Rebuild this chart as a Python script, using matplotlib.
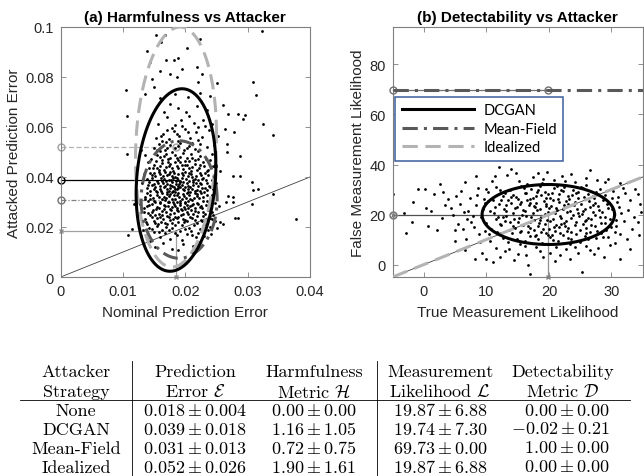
import numpy as np
import matplotlib.pyplot as plt
from matplotlib.lines import Line2D

plt.rcParams['font.family'] = ['Liberation Sans', 'DejaVu Sans']
plt.rcParams['mathtext.fontset'] = 'cm'

# summary table
strategies = ['None', 'DCGAN', 'Mean-Field', 'Idealized']
err_mean = [0.018, 0.039, 0.031, 0.052]
err_std = [0.004, 0.018, 0.013, 0.026]
harm_mean = [0.00, 1.16, 0.72, 1.90]
harm_std = [0.00, 1.05, 0.75, 1.61]
lik_mean = [19.87, 19.74, 69.73, 19.87]
lik_std = [6.88, 7.30, 0.00, 6.88]
det_mean = [0.00, -0.02, 1.00, 0.00]
det_std = [0.00, 0.21, 0.00, 0.00]

# nominal error mean as drawn in panel (a)
nom_err = 0.0185

# DCGAN samples, panel (a): (nominal error, attacked error) in units of 1e-3
pts_a = [
    (15.2, 12.1), (17.8, 11.4), (19.6, 13.2), (21.3, 12.6), (16.4, 13.8), (18.9, 10.8), (22.4, 13.9), (14.3, 14.5),
    (13.8, 15.2), (15.9, 16.1), (17.5, 15.4), (18.6, 16.8), (20.2, 17.2), (21.7, 15.9), (23.0, 16.5), (16.8, 17.6),
    (19.4, 15.0), (14.9, 17.9), (22.1, 17.8), (24.1, 17.1), (12.9, 16.4), (10.8, 16.8), (11.4, 19.2),
    (13.2, 18.9), (14.6, 19.4), (15.4, 20.6), (16.2, 18.7), (17.1, 21.3), (17.9, 19.5), (18.4, 20.8), (19.1, 18.4),
    (19.8, 21.9), (20.6, 19.7), (21.4, 20.9), (22.3, 19.1), (23.2, 21.4), (24.0, 20.2), (16.7, 21.8), (18.8, 22.0),
    (20.9, 18.6), (15.1, 21.7), (13.9, 21.1), (22.7, 22.3), (25.1, 19.6), (26.1, 21.2), (25.6, 21.9),
    (13.5, 23.4), (14.3, 24.8), (15.0, 22.6), (15.8, 25.3), (16.4, 23.1), (17.0, 24.6), (17.6, 22.9), (18.1, 25.6),
    (18.7, 23.7), (19.3, 24.9), (19.9, 22.8), (20.5, 25.2), (21.1, 23.5), (21.8, 24.4), (22.5, 22.9), (23.1, 25.1),
    (23.9, 23.8), (24.5, 24.9), (16.9, 26.0), (18.4, 24.2), (20.2, 26.1), (14.7, 26.0), (22.0, 26.2), (17.3, 23.9),
    (19.6, 23.4), (24.8, 22.6), (27.9, 23.5), (28.5, 23.5),
    (13.3, 27.6), (14.1, 28.9), (14.8, 26.9), (15.5, 28.1), (16.0, 29.6), (16.6, 27.2), (17.2, 28.6), (17.7, 26.7),
    (18.2, 29.3), (18.6, 27.8), (19.1, 28.9), (19.5, 26.8), (20.0, 29.8), (20.4, 27.5), (21.0, 28.7), (21.5, 26.5),
    (22.1, 29.1), (22.7, 27.6), (23.3, 28.8), (24.0, 27.2), (15.2, 29.9), (17.4, 29.9), (19.8, 28.2), (21.8, 29.7),
    (16.3, 26.4), (18.9, 26.3), (23.8, 29.5), (12.8, 29.3), (11.7, 29.2), (26.6, 29.9), (27.6, 29.9), (25.4, 28.5),
    (13.6, 31.2), (14.4, 32.8), (15.0, 30.6), (15.7, 31.9), (16.2, 33.5), (16.8, 30.8), (17.3, 32.4), (17.8, 33.9),
    (18.3, 31.1), (18.7, 32.9), (19.2, 30.5), (19.6, 33.3), (20.1, 31.6), (20.6, 32.8), (21.1, 30.9), (21.6, 33.6),
    (22.2, 31.8), (22.8, 30.4), (23.4, 32.6), (24.1, 31.4), (15.5, 33.9), (17.0, 34.0), (19.0, 31.9), (20.8, 34.0),
    (22.5, 33.5), (14.0, 30.3), (18.0, 30.2), (19.9, 30.1), (16.5, 32.1), (21.4, 31.7), (30.7, 29.2), (27.7, 31.9),
    (26.8, 32.3), (30.9, 34.9), (31.6, 35.2), (34.1, 33.2),
    (13.8, 35.7), (14.6, 36.9), (15.3, 34.6), (15.9, 36.2), (16.4, 37.6), (17.0, 35.1), (17.5, 36.8), (18.0, 34.5),
    (18.5, 37.3), (18.9, 35.6), (19.4, 36.9), (19.8, 34.7), (20.3, 37.8), (20.8, 35.9), (21.3, 36.8), (21.9, 34.8),
    (22.5, 37.1), (23.1, 35.5), (23.8, 36.6), (24.4, 35.1), (16.1, 34.3), (17.8, 37.9), (19.2, 38.0), (20.5, 34.2),
    (22.0, 36.3), (18.2, 36.1), (24.9, 37.6), (14.2, 37.9), (30.7, 37.9), (27.7, 40.5), (28.8, 40.5),
    (13.9, 39.2), (14.7, 40.6), (15.4, 38.5), (16.0, 41.2), (16.6, 39.4), (17.1, 40.9), (17.7, 38.6), (18.2, 41.6),
    (18.7, 39.8), (19.1, 38.4), (19.6, 40.7), (20.1, 39.2), (20.6, 41.5), (21.2, 38.7), (21.7, 40.3), (22.3, 41.8),
    (22.9, 39.5), (23.6, 40.8), (24.3, 39.0), (15.8, 42.0), (17.5, 42.0), (19.9, 42.1), (18.4, 40.2), (16.9, 38.3),
    (21.0, 40.0), (13.3, 41.1),
    (14.2, 43.5), (15.0, 44.9), (15.7, 42.8), (16.3, 45.6), (16.9, 43.9), (17.5, 45.1), (18.0, 42.6), (18.6, 44.4),
    (19.2, 46.0), (19.7, 43.2), (20.3, 44.8), (20.9, 42.5), (21.5, 45.3), (22.2, 43.7), (22.9, 45.8), (23.7, 43.0),
    (17.2, 46.1), (20.0, 46.3), (24.5, 44.2), (14.0, 45.8), (12.2, 44.1), (25.6, 42.2),
    (14.5, 47.3), (15.4, 48.8), (16.2, 46.9), (16.9, 49.4), (17.6, 47.5), (18.3, 48.9), (18.9, 46.7), (19.6, 49.6),
    (20.2, 47.8), (20.9, 49.0), (21.6, 46.6), (22.4, 48.4), (23.3, 47.2), (17.9, 50.1), (15.9, 50.2), (24.2, 49.1),
    (10.6, 49.2), (26.7, 49.9), (28.8, 48.5),
    (14.9, 51.6), (15.8, 53.2), (16.7, 50.9), (17.5, 52.7), (18.3, 51.4), (19.1, 53.6), (19.8, 50.7), (20.6, 52.3),
    (21.5, 51.2), (22.4, 53.1), (23.5, 51.8), (18.8, 54.2), (16.2, 54.4), (26.7, 53.2), (24.6, 52.8),
    (15.3, 55.8), (16.4, 57.2), (17.3, 55.1), (18.2, 58.3), (19.0, 56.4), (19.9, 59.1), (20.8, 55.6), (21.7, 57.8),
    (22.7, 56.1), (17.8, 59.6), (23.8, 58.7), (26.4, 59.2), (27.8, 57.9), (22.1, 59.9),
    (15.6, 61.3), (17.1, 63.8), (18.4, 60.9), (19.3, 62.7), (20.6, 64.2), (21.4, 61.6), (22.8, 62.9), (16.5, 66.1),
    (18.9, 67.4), (20.1, 65.8), (21.9, 68.2), (23.5, 66.7), (17.6, 69.1), (24.3, 61.1), (26.1, 68.8), (26.8, 65.2),
    (28.4, 65.2), (29.5, 64.9), (29.3, 63.2), (32.4, 61.2), (34.1, 56.9), (10.6, 64.5), (10.4, 74.9),
    (15.9, 71.5), (18.3, 73.2), (20.5, 71.8), (22.4, 73.5), (14.6, 79.2), (17.5, 81.2), (18.6, 79.9), (22.6, 81.2),
    (22.1, 77.9), (13.5, 73.2), (24.0, 72.5), (25.0, 77.5), (14.9, 75.9), (30.8, 78.1), (31.3, 72.8), (15.9, 82.5),
    (16.9, 86.8), (18.1, 86.8), (18.9, 87.5), (21.8, 83.9), (13.9, 90.5), (20.2, 91.5), (15.25, 96.9), (16.05, 93.9),
    (16.7, 96.9), (22.4, 95.2), (32.3, 98.3), (14.4, 86.1), (19.5, 83.1), (37.8, 23.2),
    (15.6, 21.4), (16.9, 20.2), (18.0, 23.3), (19.4, 21.0), (20.7, 23.9), (21.9, 21.6), (23.4, 22.8), (14.6, 23.9),
    (15.3, 27.3), (16.7, 28.4), (17.9, 27.9), (19.3, 27.1), (20.7, 28.3), (22.4, 27.9), (23.6, 26.9), (14.4, 31.3),
    (15.9, 30.2), (16.9, 31.7), (18.1, 32.6), (19.4, 31.3), (20.4, 30.4), (21.8, 32.3), (23.0, 33.9), (13.9, 33.6),
    (14.9, 35.3), (16.6, 35.9), (17.6, 35.6), (18.6, 35.0), (19.9, 36.1), (21.1, 35.2), (22.6, 35.8), (15.6, 37.6),
    (17.3, 38.7), (18.9, 38.9), (20.6, 38.5), (22.0, 38.9), (23.5, 37.8), (14.6, 39.6), (16.4, 40.4), (18.0, 39.7),
    (19.4, 41.5), (20.9, 41.1), (22.5, 40.6), (15.4, 43.4), (17.3, 44.2), (18.9, 43.5), (20.6, 43.8), (22.4, 44.6),
    (16.0, 47.9), (18.6, 47.6), (21.1, 47.7), (19.4, 45.0), (17.4, 41.2), (19.0, 37.2), (17.5, 33.2), (20.2, 33.6),
    (18.6, 29.9), (16.3, 25.0), (21.3, 25.4), (19.2, 35.9), (18.4, 34.1), (17.2, 30.2), (20.0, 27.2), (21.7, 37.5),
    (15.0, 41.8), (23.4, 42.4), (13.4, 26.2), (13.1, 37.6), (24.6, 33.8), (24.8, 29.5),
    (14.1, 19.8), (15.7, 18.1), (17.3, 19.0), (18.3, 17.6), (19.9, 19.3), (21.0, 17.0), (22.8, 20.6), (23.7, 18.9),
    (13.7, 22.2), (15.5, 23.6), (16.1, 22.0), (17.8, 21.5), (18.9, 23.9), (20.3, 22.3), (21.5, 22.8), (22.9, 24.3),
    (24.3, 23.2), (14.0, 25.6), (15.1, 25.0), (16.0, 24.1), (17.5, 25.2), (18.6, 26.8), (19.7, 25.4), (20.9, 26.7),
    (21.6, 27.7), (22.8, 26.1), (24.2, 25.9), (13.8, 28.4), (14.6, 29.3), (15.8, 27.6), (16.5, 29.0), (17.5, 27.4),
    (18.4, 28.5), (19.2, 29.6), (20.2, 28.8), (21.2, 29.3), (22.5, 28.3), (23.5, 30.3), (13.5, 32.2), (14.8, 31.7),
    (15.4, 32.6), (16.2, 31.2), (17.1, 33.1), (17.9, 31.4), (18.9, 33.6), (19.8, 32.3), (20.8, 31.3), (21.9, 33.1),
    (22.9, 32.2), (24.3, 32.7), (14.3, 34.5), (15.2, 35.9), (16.0, 35.0), (16.8, 36.6), (17.4, 34.4), (18.3, 35.3),
    (18.8, 36.6), (19.6, 35.4), (20.5, 36.4), (21.5, 34.3), (22.3, 34.6), (23.5, 34.9), (14.0, 36.8), (15.0, 37.2),
    (16.3, 38.4), (17.1, 37.3), (17.9, 36.5), (18.5, 38.3), (19.6, 37.9), (20.4, 35.1), (21.2, 37.9), (22.3, 37.6),
    (23.3, 38.7), (24.0, 36.0), (14.3, 41.8), (15.2, 40.3), (16.1, 39.5), (16.8, 41.9), (17.8, 40.5), (18.8, 41.2),
    (19.5, 39.6), (20.4, 40.4), (21.5, 39.3), (22.6, 39.2), (23.1, 41.5), (14.8, 43.8), (15.9, 44.3), (16.6, 42.9),
    (17.8, 43.6), (18.4, 45.9), (19.9, 44.6), (21.0, 44.0), (21.9, 42.8), (23.0, 44.4), (15.3, 46.4), (16.6, 48.3),
    (17.2, 47.2), (19.2, 48.1), (20.6, 46.2), (22.0, 47.4), (23.9, 46.6), (15.5, 50.7), (17.1, 51.6), (18.9, 52.4),
    (20.2, 51.7), (22.1, 50.4), (16.9, 53.8), (21.1, 53.7), (13.6, 48.6), (12.9, 50.8), (16.1, 56.4), (18.7, 57.1),
    (20.5, 57.9), (22.0, 54.9), (19.4, 60.3), (17.0, 58.9), (23.1, 60.5), (25.2, 56.4),
]

# DCGAN samples, panel (b): (true likelihood, false likelihood)
pts_b = [
    (12.0, 39.1), (14.0, 38.4), (18.3, 36.8), (19.7, 37.1), (26.5, 37.7), (8.3, 35.5), (29.5, 34.4), (27.7, 33.7),
    (15.2, 33.6), (17.4, 34.9), (22.1, 35.3), (24.2, 33.1), (10.9, 33.4), (13.3, 35.9), (20.8, 33.9), (23.5, 36.2),
    (16.5, 32.4), (31.3, 32.6), (6.5, 32.9), (25.9, 34.6), (18.9, 32.8),
    (-1.0, 30.4), (0.1, 30.1), (1.6, 28.4), (3.0, 29.1), (-4.9, 28.4), (5.2, 27.4), (7.3, 26.8), (8.6, 30.6),
    (10.2, 28.9), (11.5, 31.1), (12.6, 27.6), (13.8, 29.8), (14.7, 26.9), (15.5, 31.4), (16.3, 28.5), (17.1, 30.3),
    (17.9, 27.3), (18.6, 31.5), (19.3, 29.2), (20.1, 26.7), (20.8, 30.6), (21.6, 28.1), (22.4, 31.2), (23.1, 27.5),
    (23.9, 29.9), (24.7, 26.8), (25.5, 30.8), (26.3, 28.4), (27.2, 26.6), (28.1, 30.2), (29.0, 27.9), (30.2, 29.6),
    (31.1, 26.9), (32.2, 28.8), (33.8, 30.1), (9.6, 26.3), (12.1, 29.9), (16.9, 26.3), (19.8, 28.3), (21.9, 29.7),
    (24.3, 28.6), (27.6, 29.2), (18.1, 29.1), (14.2, 27.9),
    (-1.8, 25.1), (0.3, 22.7), (3.3, 23.7), (34.6, 24.4), (32.7, 21.7), (5.8, 24.2), (7.1, 21.6), (8.4, 23.9),
    (9.4, 22.1), (10.3, 25.3), (11.2, 20.8), (12.0, 24.1), (12.8, 22.4), (13.5, 25.7), (14.2, 20.6), (14.9, 23.2),
    (15.6, 25.1), (16.2, 21.4), (16.8, 23.8), (17.4, 20.5), (18.0, 24.7), (18.6, 22.1), (19.2, 25.6), (19.8, 21.1),
    (20.4, 23.5), (21.0, 20.6), (21.6, 24.9), (22.2, 22.4), (22.8, 25.3), (23.4, 21.3), (24.0, 23.7), (24.6, 20.7),
    (25.2, 24.4), (25.8, 22.2), (26.4, 25.5), (27.1, 21.2), (27.8, 23.6), (28.5, 20.9), (29.3, 24.1), (30.1, 22.3),
    (30.9, 25.2), (31.6, 20.8), (13.1, 21.4), (15.3, 24.4), (17.7, 22.9), (19.5, 23.4), (21.3, 21.8), (23.1, 24.1),
    (25.5, 21.5), (27.3, 24.7), (16.5, 25.9), (20.7, 25.8), (9.8, 24.8), (6.4, 20.9), (4.4, 22.5),
    (-1.9, 17.1), (4.7, 19.7), (5.5, 16.3), (6.9, 18.4), (8.0, 15.1), (9.1, 19.2), (10.0, 16.6), (10.8, 14.4),
    (11.6, 18.3), (12.4, 15.7), (13.1, 19.6), (13.8, 16.9), (14.5, 14.8), (15.2, 18.7), (15.8, 16.0), (16.4, 19.4),
    (17.0, 14.6), (17.6, 17.7), (18.2, 15.4), (18.8, 19.1), (19.4, 16.3), (20.0, 14.2), (20.6, 18.2), (21.2, 15.7),
    (21.8, 19.5), (22.4, 16.8), (23.0, 14.5), (23.6, 18.6), (24.2, 15.9), (24.8, 19.3), (25.4, 16.4), (26.0, 14.7),
    (26.7, 18.1), (27.4, 15.6), (28.2, 19.0), (29.0, 16.5), (29.9, 14.9), (30.8, 17.9), (33.3, 14.4), (34.2, 16.9),
    (12.9, 17.4), (16.9, 17.1), (19.7, 17.9), (22.7, 17.4), (25.9, 17.8), (14.3, 15.4), (21.6, 14.9), (18.5, 18.0),
    (7.6, 17.2), (2.9, 18.6),
    (4.9, 13.7), (6.7, 10.4), (8.8, 12.2), (10.5, 9.6), (11.7, 13.1), (12.6, 10.8), (13.4, 8.9), (14.1, 12.5),
    (14.9, 10.1), (15.6, 13.4), (16.2, 9.3), (16.9, 11.6), (17.6, 13.7), (18.2, 10.4), (18.9, 8.6), (19.5, 12.8),
    (20.2, 10.9), (20.9, 13.3), (21.5, 9.5), (22.2, 11.9), (22.9, 13.6), (23.6, 10.2), (24.3, 12.4), (25.0, 9.2),
    (25.8, 11.5), (26.6, 13.2), (27.5, 10.6), (28.4, 12.7), (29.4, 11.1), (31.4, 12.4), (32.5, 10.4), (17.9, 12.0),
    (20.5, 11.8), (23.3, 8.4), (15.3, 8.2), (12.2, 12.8), (9.7, 13.6),
    (6.5, 5.7), (10.0, 2.4), (11.1, 1.1), (12.1, 3.1), (16.7, 0.0), (17.0, -3.6), (25.3, -2.9), (31.4, 2.4),
    (8.1, 2.4), (23.4, 2.4), (21.7, 3.7), (20.2, 4.7), (26.6, 5.7), (29.8, 7.7), (13.6, 6.4), (15.1, 4.2),
    (17.9, 6.9), (19.1, 2.9), (22.8, 6.1), (24.7, 4.6), (27.9, 6.8), (11.5, 6.8), (14.4, 1.7), (18.6, 5.3),
    (16.2, 7.4), (21.1, 7.2), (25.9, 7.5), (9.3, 4.8), (28.8, 3.2),
    (10.6, 21.6), (11.4, 23.2), (11.9, 18.9), (12.3, 26.0), (12.7, 19.2), (13.2, 23.8), (13.6, 14.0), (13.9, 27.2),
    (14.4, 18.1), (14.6, 22.5), (15.0, 26.1), (15.4, 12.9), (15.7, 19.9), (15.9, 21.9), (16.1, 28.7), (16.6, 15.3),
    (16.9, 24.5), (17.2, 19.0), (17.5, 26.8), (17.8, 11.3), (18.1, 21.7), (18.4, 16.7), (18.7, 27.8), (19.0, 14.3),
    (19.3, 20.3), (19.6, 24.1), (19.9, 11.9), (20.2, 17.4), (20.5, 28.5), (20.8, 15.1), (21.1, 22.7), (21.4, 26.3),
    (21.7, 12.6), (22.0, 18.8), (22.3, 29.4), (22.6, 15.4), (22.9, 21.0), (23.2, 26.4), (23.5, 13.1), (23.8, 19.8),
    (24.1, 24.9), (24.4, 17.2), (24.7, 29.1), (25.0, 14.0), (25.3, 20.1), (25.6, 26.9), (25.9, 12.8), (26.2, 18.7),
    (26.5, 23.1), (26.8, 15.9), (27.1, 27.6), (27.4, 19.9), (27.7, 13.5), (28.0, 22.0), (28.3, 16.8), (28.6, 25.9),
    (28.9, 19.1), (29.2, 14.0), (29.5, 22.8), (29.8, 18.2), (30.1, 26.5), (30.4, 20.4), (30.7, 15.6),
    (11.0, 25.9), (12.2, 16.4), (13.0, 28.8), (14.0, 24.6), (15.1, 16.9), (16.0, 30.6), (16.7, 13.0), (17.6, 23.6),
    (18.3, 30.0), (18.8, 13.2), (19.5, 26.6), (20.0, 22.5), (20.6, 9.8), (21.3, 31.3), (21.9, 16.4), (22.4, 23.9),
    (23.0, 10.6), (23.7, 28.0), (24.5, 22.1), (25.1, 31.0), (25.7, 17.5), (26.3, 10.3), (27.0, 24.0), (27.9, 28.4),
    (28.7, 10.9), (29.6, 24.7), (30.5, 13.2), (31.2, 23.0), (32.0, 17.6), (32.9, 25.8), (33.6, 19.2), (34.4, 11.8),
    (34.8, 21.0),
    (1.2, 21.3), (2.1, 13.9), (3.8, 26.1), (5.0, 9.4), (5.9, 29.6), (6.2, 14.3), (7.9, 19.4), (8.5, 27.8),
    (8.9, 8.9), (9.9, 30.3), (10.4, 12.3), (11.3, 35.2), (12.9, 5.3), (14.7, 36.7), (16.4, 3.9), (19.0, 34.2),
    (20.9, 1.6), (22.6, 33.5), (24.1, 6.9), (26.0, 31.9), (27.2, 4.3), (28.9, 33.0), (30.6, 8.6), (31.9, 30.8),
    (33.0, 6.2), (34.3, 28.3), (2.5, 32.4), (0.6, 15.4), (-3.2, 20.6), (-2.8, 12.8),
]

# ellipses: centre x, centre y, half width, half height, tilt
ell_a = {
    'Idealized': (0.0185, 0.052, 0.0065, 0.048, 0.10),
    'Mean-Field': (0.0190, 0.031, 0.0061, 0.0235, 0.0),
    'DCGAN': (0.0185, 0.0388, 0.0064, 0.0365, 0.15),
}
ell_b = (19.9, 20.0, 10.6, 12.0, 0.0)

black = 'k'
dgray = '#595959'
lgray = '#b3b3b3'
mgray = '#a0a0a0'
thick = 2.2
mf_dash = (5, 2, 1, 2)
id_dash = (5, 2.5)


def ellipse(cx, cy, w, h, rho, n=300):
    t = np.linspace(0, 2 * np.pi, n)
    x = cx + w * np.cos(t)
    y = cy + h * (rho * np.cos(t) + np.sqrt(1 - rho ** 2) * np.sin(t))
    return x, y


def style_axes(ax):
    for s in ax.spines.values():
        s.set_color('#7f7f7f')
        s.set_linewidth(0.8)
    ax.tick_params(direction='in', top=True, right=True, length=3.5, width=0.6,
                   color='#7f7f7f', labelsize=10.5, labelcolor='#262626', pad=5)


fig = plt.figure(figsize=(6.44, 4.77), dpi=100)
ax1 = fig.add_axes([60.7 / 644, 199 / 477, 249.3 / 644, 250 / 477])
ax2 = fig.add_axes([392.7 / 644, 199 / 477, 250 / 644, 250 / 477])

# ---- panel (a)
xa = np.array([p[0] for p in pts_a]) / 1000
ya = np.array([p[1] for p in pts_a]) / 1000
ax1.plot([0, 0.04], [0, 0.04], color='#404040', lw=0.6, zorder=1)
ax1.plot([0, nom_err], [err_mean[3], err_mean[3]], color=lgray, lw=0.9, dashes=(4, 2),
         marker='o', ms=5, mfc='none', mec='#a0a0a0', clip_on=False, zorder=1)
ax1.plot([0, nom_err], [err_mean[1], err_mean[1]], color=black, lw=0.9,
         marker='o', ms=5, mfc='none', mec='k', markevery=[0], clip_on=False, zorder=1)
ax1.plot([0, nom_err], [err_mean[2], err_mean[2]], color='#808080', lw=0.9, dashes=(4, 1.5, 1, 1.5),
         marker='o', ms=5, mfc='none', mec='#707070', markevery=[0], clip_on=False, zorder=1)
ax1.plot([0, nom_err], [nom_err, nom_err], color=mgray, lw=0.9,
         marker='x', ms=3.5, mec='#909090', markevery=[0], clip_on=False, zorder=1)
ax1.plot([nom_err, nom_err], [0, nom_err], color=mgray, lw=0.9,
         marker='x', ms=3.5, mec='#909090', markevery=[0], clip_on=False, zorder=1)
ax1.plot(xa, ya, 'o', ms=2.0, mew=0, color='k', zorder=2)
ex, ey = ellipse(*ell_a['Idealized'])
ax1.plot(ex, ey, color=lgray, lw=thick, dashes=id_dash, zorder=3)
ex, ey = ellipse(*ell_a['Mean-Field'])
ax1.plot(ex, ey, color=dgray, lw=thick, dashes=mf_dash, zorder=3)
ex, ey = ellipse(*ell_a['DCGAN'])
ax1.plot(ex, ey, color=black, lw=thick, zorder=4)

ax1.set_xlim(0, 0.04)
ax1.set_ylim(0, 0.1)
ax1.set_xticks([0, 0.01, 0.02, 0.03, 0.04])
ax1.set_xticklabels(['0', '0.01', '0.02', '0.03', '0.04'])
ax1.set_yticks([0, 0.02, 0.04, 0.06, 0.08, 0.1])
ax1.set_yticklabels(['0', '0.02', '0.04', '0.06', '0.08', '0.1'])
ax1.set_xlabel('Nominal Prediction Error', fontsize=11, color='#262626', labelpad=5)
ax1.set_ylabel('Attacked Prediction Error', fontsize=11, color='#262626', labelpad=3)
ax1.set_title('(a) Harmfulness vs Attacker', fontsize=11, fontweight='bold', pad=4)
style_axes(ax1)

# ---- panel (b)
xb = [p[0] for p in pts_b]
yb = [p[1] for p in pts_b]
ax2.plot([-5, 35], [-5, 35], color='#404040', lw=0.6, zorder=1)
ax2.plot([-5, lik_mean[0]], [lik_mean[0], lik_mean[0]], color='#909090', lw=0.9,
         marker='x', ms=3.5, mec='#808080', markevery=[0], clip_on=False, zorder=1)
ax2.plot([-5, lik_mean[0]], [lik_mean[1], lik_mean[1]], color='#505050', lw=0.8,
         marker='o', ms=5, mfc='none', mec='#707070', markevery=[0], clip_on=False, zorder=1)
ax2.plot([lik_mean[0], lik_mean[0]], [-5, lik_mean[0]], color='#909090', lw=0.9,
         marker='x', ms=3.5, mec='#808080', markevery=[0], clip_on=False, zorder=1)
ax2.plot([-5, lik_mean[0]], [lik_mean[2], lik_mean[2]], color='#707070', lw=0.9,
         marker='o', ms=5, mfc='none', mec='#707070', clip_on=False, zorder=3)
ax2.plot(xb, yb, 'o', ms=2.0, mew=0, color='k', zorder=2)
ax2.plot([-5, 35], [-5, 35], color=lgray, lw=thick, dashes=id_dash, zorder=3)
ax2.plot([-5, 35], [lik_mean[2], lik_mean[2]], color=dgray, lw=thick, dashes=mf_dash, zorder=3)
ex, ey = ellipse(*ell_b)
ax2.plot(ex, ey, color=black, lw=thick, zorder=4)

ax2.set_xlim(-5, 35)
ax2.set_ylim(-5, 95)
ax2.set_xticks([0, 10, 20, 30])
ax2.set_yticks([0, 20, 40, 60, 80])
ax2.set_xlabel('True Measurement Likelihood', fontsize=11, color='#262626', labelpad=5)
ax2.set_ylabel('False Measurement Likelihood', fontsize=11, color='#262626', labelpad=3)
ax2.set_title('(b) Detectability vs Attacker', fontsize=11, fontweight='bold', pad=4)
style_axes(ax2)

handles = [Line2D([], [], color=black, lw=thick),
           Line2D([], [], color=dgray, lw=thick, dashes=mf_dash),
           Line2D([], [], color=lgray, lw=thick, dashes=id_dash)]
leg = ax2.legend(handles, strategies[1:], loc='upper left', bbox_to_anchor=(0.009, 0.721),
                 borderaxespad=0, fancybox=False, framealpha=1, handlelength=5.0,
                 handletextpad=0.6, labelspacing=0.3, borderpad=0.45,
                 prop={'family': ['Lato', 'DejaVu Sans'], 'size': 10.5})
leg.get_frame().set_edgecolor('#3b5d9c')
leg.get_frame().set_linewidth(1.1)

# ---- table
H = 477.0


def fy(py):
    return 1 - py / H


tf = {'fontsize': 13, 'fontfamily': 'cmr10', 'ha': 'center', 'va': 'center'}
cols = [76, 195, 314, 440, 563]
head1 = ['Attacker', 'Prediction', 'Harmfulness', 'Measurement', 'Detectability']
head2 = ['Strategy', r'Error $\mathcal{E}$', r'Metric $\mathcal{H}$',
         r'Likelihood $\mathcal{L}$', r'Metric $\mathcal{D}$']
for cx, h1, h2 in zip(cols, head1, head2):
    fig.text(cx / 644, fy(372), h1, **tf)
    fig.text(cx / 644, fy(392), h2, **tf)

row_y = [411, 430, 449, 468]
for i, name in enumerate(strategies):
    yy = fy(row_y[i])
    fig.text(cols[0] / 644, yy, name, **tf)
    fig.text(cols[1] / 644, yy, r'$%.3f \pm %.3f$' % (err_mean[i], err_std[i]), **tf)
    fig.text(cols[2] / 644, yy, r'$%.2f \pm %.2f$' % (harm_mean[i], harm_std[i]), **tf)
    fig.text(cols[3] / 644, yy, r'$%.2f \pm %.2f$' % (lik_mean[i], lik_std[i]), **tf)
    fig.text(610 / 644, yy, r'$%.2f \pm %.2f$' % (det_mean[i], det_std[i]),
             fontsize=13, ha='right', va='center')

fig.add_artist(Line2D([20 / 644, 630 / 644], [fy(401), fy(401)], color='k', lw=0.6))
for vx in [131.7, 377.3]:
    fig.add_artist(Line2D([vx / 644, vx / 644], [fy(362), fy(477)], color='k', lw=0.6))

fig.savefig('out.png', dpi=100)
